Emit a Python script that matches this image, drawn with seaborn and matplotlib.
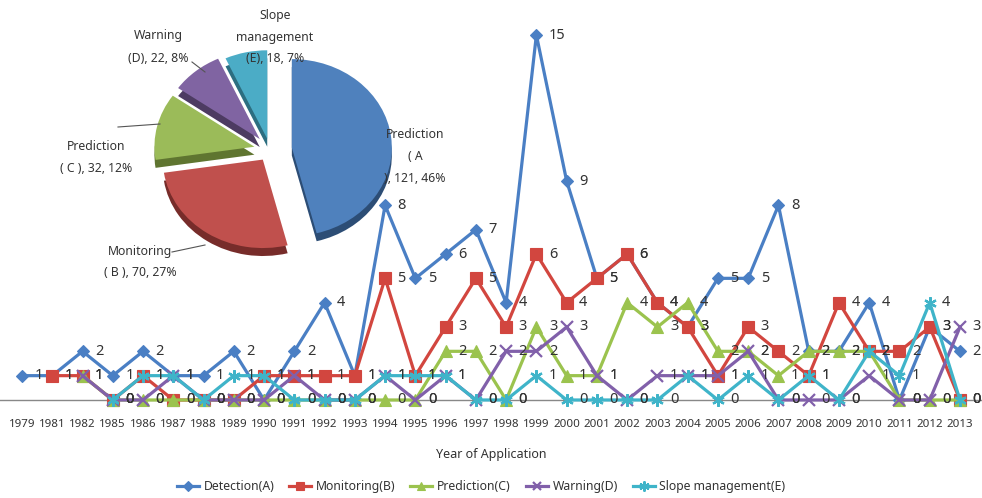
import numpy as np
import pandas as pd
import matplotlib
matplotlib.use("Agg")
import matplotlib.pyplot as plt
import seaborn as sns

# Datos
years = ["1979", "1981", "1982", "1985", "1986", "1987", "1988", "1989", "1990", "1991",
         "1992", "1993", "1994", "1995", "1996", "1997", "1998", "1999", "2000", "2001",
         "2002", "2003", "2004", "2005", "2006", "2007", "2008", "2009", "2010", "2011",
         "2012", "2013"]
nan = np.nan
detection = [1, 1, 2, 1, 2, 1, 1, 2, 0, 2, 4, 1, 8, 5, 6, 7, 4, 15, 9, 5,
             6, 4, 3, 5, 5, 8, 2, 2, 4, 0, 3, 2]
monitoring = [nan, 1, 1, 0, 1, 0, 0, 0, 1, 1, 1, 1, 5, 1, 3, 5, 3, 6, 4, 5,
              6, 4, 3, 1, 3, 2, 1, 4, 2, 2, 3, 0]
prediction = [nan, nan, 1, 0, 0, 0, 0, 0, 0, 0, 0, 0, 0, 0, 2, 2, 0, 3, 1, 1,
              4, 3, 4, 2, 2, 1, 2, 2, 2, 0, 0, 0]
warning = [nan, nan, 1, 0, 0, 1, 0, 0, 0, 1, 0, 0, 1, 0, 1, 0, 2, 2, 3, 1,
           0, 1, 1, 1, 2, 0, 0, 0, 1, 0, 0, 3]
slope = [nan, nan, nan, 0, 1, 1, 0, 1, 1, 0, 0, 0, 1, 1, 1, 0, 0, 1, 0, 0,
         0, 0, 1, 0, 1, 0, 1, 0, 2, 1, 4, 0]

series_names = ["Detection(A)", "Monitoring(B)", "Prediction(C)", "Warning(D)", "Slope management(E)"]
series_vals = [detection, monitoring, prediction, warning, slope]
colors = ["#4a7fc4", "#d2463f", "#9bc34e", "#8160aa", "#3fb4c9"]
markers = ["D", "s", "^", "x", (6, 2, 0)]
msizes = [6, 8, 8, 8, 9]

# Datos del pastel
pie_names = ["Prediction", "Monitoring", "Prediction", "Warning", "Slope management"]
pie_letters = ["A", "B", "C", "D", "E"]
pie_values = [121, 70, 32, 22, 18]
pie_colors = ["#4f81bd", "#c0504d", "#9bbb59", "#8064a2", "#4bacc6"]
pie_dark = ["#2c4d75", "#772c2a", "#5f7530", "#4d3b62", "#2c6e80"]

plt.rcParams["font.family"] = ["Noto Sans", "DejaVu Sans"]
fig = plt.figure(figsize=(9.82, 4.98), dpi=100)
ax = fig.add_axes([0, 0.1675, 1, 0.7817])

x = np.arange(len(years))
for name, vals, c, m, ms in zip(series_names, series_vals, colors, markers, msizes):
    df = pd.DataFrame({"x": x, "y": vals}).dropna()
    sns.lineplot(data=df, x="x", y="y", ax=ax, color=c, marker=m, markersize=ms,
                 linewidth=2.3, markeredgecolor=c, markeredgewidth=1.6 if m in ("x", (6, 2, 0)) else 0.8,
                 label=name, clip_on=False)
    for xi, yi in zip(df["x"], df["y"]):
        ax.annotate(f"{int(yi)}", (xi, yi), xytext=(9, 0), textcoords="offset points",
                    ha="left", va="center", fontsize=10.5, color="#333333")

ax.axhline(0, color="#888888", linewidth=1, zorder=0)
ax.set_xlim(-0.727, 31.727)
ax.set_ylim(-0.6, 15.4)
ax.set_xticks(x)
ax.set_xticklabels(years, fontsize=8.3, color="#333333")
ax.tick_params(axis="x", length=0, pad=3)
ax.set_yticks([])
ax.set_xlabel("Year of Application", fontsize=9, color="#333333", labelpad=13)
ax.set_ylabel("")
for s in ax.spines.values():
    s.set_visible(False)
ax.patch.set_alpha(0)

leg = ax.legend(loc="lower center", bbox_to_anchor=(0.49, -0.215), ncol=5, frameon=False,
                fontsize=8.8, columnspacing=1.2, handlelength=1.8, handletextpad=0.4,
                labelcolor="#333333", borderaxespad=0, markerscale=0.8)

# Pastel insertado
axp = fig.add_axes([140 / 982, 1 - 265 / 498, 260 / 982, 230 / 498])
explode = [0.22, 0.13, 0.16, 0.16, 0.13]
axp.pie(pie_values, colors=pie_dark, startangle=90, counterclock=False, explode=explode,
        center=(0, -0.09), wedgeprops=dict(linewidth=0))
axp.pie(pie_values, colors=pie_colors, startangle=90, counterclock=False, explode=explode,
        wedgeprops=dict(linewidth=0))
axp.set_aspect("auto")
axp.set_xlim(-1.3, 1.3)
axp.set_ylim(-1.3, 1.3)
axp.axis("off")

total = sum(pie_values)
pct = [round(v / total * 100) for v in pie_values]
txt = [
    f"{pie_names[0]}\n( {pie_letters[0]}\n), {pie_values[0]}, {pct[0]}%",
    f"{pie_names[1]}\n( {pie_letters[1]} ), {pie_values[1]}, {pct[1]}%",
    f"{pie_names[2]}\n( {pie_letters[2]} ), {pie_values[2]}, {pct[2]}%",
    f"{pie_names[3]}\n({pie_letters[3]}), {pie_values[3]}, {pct[3]}%",
    "Slope\nmanagement\n" + f"({pie_letters[4]}), {pie_values[4]}, {pct[4]}%",
]
pos = [(415, 157), (140, 262), (96, 157), (158, 47), (275, 37)]
for t, (px, py) in zip(txt, pos):
    fig.text(px / 982, 1 - py / 498, t, ha="center", va="center", fontsize=8.8,
             color="#333333", linespacing=1.9)

# lineas guia
for (x0, y0), (x1, y1) in [((192, 62), (205, 72)), ((172, 252), (205, 245)), ((118, 127), (160, 124))]:
    fig.add_artist(plt.Line2D([x0 / 982, x1 / 982], [1 - y0 / 498, 1 - y1 / 498],
                              color="#555555", linewidth=0.8))

fig.savefig("out.png", dpi=100)
